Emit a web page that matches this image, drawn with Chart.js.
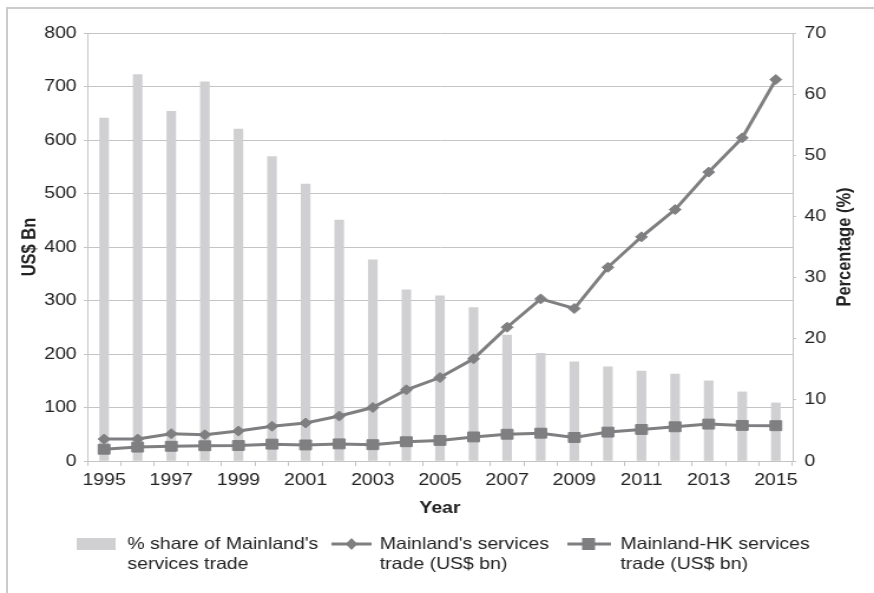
<!DOCTYPE html>
<html lang="en">
<head>
  <meta charset="UTF-8" />
  <title>Mainland services trade</title>
  <script src="https://cdn.jsdelivr.net/npm/chart.js"></script>
  <style>
    body {
      margin: 0;
      padding: 0;
      background-color: #fff;
      overflow: hidden;
    }

    .frame {
      position: absolute;
      left: 6px;
      top: 7px;
      width: 900px;
      height: 620px;
      border-left: 2px solid #cccccc;
      border-top: 2px solid #cccccc;
    }

    /* the chart is drawn narrow and stretched sideways to the page width */
    .stretch {
      position: absolute;
      left: 0;
      top: 0;
      width: 741px;
      height: 593px;
      transform: scaleX(1.1795);
      transform-origin: 0 0;
    }
  </style>
</head>
<body>

  <div class="frame"></div>
  <div class="stretch">
    <canvas id="tradeChart" width="741" height="593"></canvas>
  </div>

  <script>
    const years = ['1995', '1996', '1997', '1998', '1999', '2000', '2001', '2002', '2003', '2004',
      '2005', '2006', '2007', '2008', '2009', '2010', '2011', '2012', '2013', '2014', '2015'];

    // % share of Mainland's services trade (right axis)
    const shareOfMainland = [56.1, 63.2, 57.2, 62.0, 54.3, 49.8, 45.3, 39.4, 32.9, 28.0,
      27.0, 25.1, 20.6, 17.6, 16.2, 15.4, 14.7, 14.2, 13.1, 11.3, 9.5];

    // Mainland's services trade, US$ bn (left axis)
    const mainlandTrade = [41, 41, 51, 49, 56, 65, 71, 84, 100, 133,
      156, 191, 250, 303, 285, 362, 419, 470, 540, 604, 713];

    // Mainland-HK services trade, US$ bn (left axis)
    const mainlandHKTrade = [22, 26, 27.5, 28.5, 29, 31.5, 30, 32, 30.5, 36,
      38.5, 45, 50, 52, 44, 54, 59, 64, 69, 66.5, 66];

    const legendLabels = [
      ["% share of Mainland's", 'services trade'],
      ["Mainland's services", 'trade (US$ bn)'],
      ['Mainland-HK services', 'trade (US$ bn)']
    ];

    const barColor = '#d0d0d2';
    const lineColor = '#7f7f81';
    const gridColor = '#c4c4c4';
    const textColor = '#222';
    const fontFamily = '"Liberation Sans", Arial, sans-serif';
    const fontSize = 16.5;

    // right axis title reads bottom-to-top, like the left one
    const rightTitle = {
      id: 'rightTitle',
      afterDraw(chart) {
        const ctx = chart.ctx;
        const area = chart.chartArea;
        ctx.save();
        ctx.translate(716, (area.top + area.bottom) / 2);
        ctx.rotate(-Math.PI / 2);
        ctx.fillStyle = textColor;
        ctx.font = 'bold ' + fontSize + 'px ' + fontFamily;
        ctx.textAlign = 'center';
        ctx.textBaseline = 'middle';
        ctx.fillText('Percentage (%)', 0, 0);
        ctx.restore();
      }
    };

    // legend under the axis title, two text lines per entry
    const bottomLegend = {
      id: 'bottomLegend',
      afterDraw(chart) {
        const ctx = chart.ctx;
        const rowY = 544;
        const rowGap = 20;
        ctx.save();

        ctx.fillStyle = barColor;
        ctx.fillRect(65, rowY - 6, 33, 12);

        ctx.strokeStyle = lineColor;
        ctx.lineWidth = 3;
        ctx.beginPath();
        ctx.moveTo(281, rowY);
        ctx.lineTo(315, rowY);
        ctx.moveTo(481, rowY);
        ctx.lineTo(518, rowY);
        ctx.stroke();

        ctx.fillStyle = lineColor;
        ctx.beginPath();
        ctx.moveTo(298 - 5, rowY);
        ctx.lineTo(298, rowY - 6);
        ctx.lineTo(298 + 5, rowY);
        ctx.lineTo(298, rowY + 6);
        ctx.closePath();
        ctx.fill();
        ctx.fillRect(499 - 5.5, rowY - 6, 11, 12);

        ctx.fillStyle = textColor;
        ctx.font = fontSize + 'px ' + fontFamily;
        ctx.textBaseline = 'middle';
        ctx.textAlign = 'left';
        const textX = [108, 322, 526];
        legendLabels.forEach((lines, i) => {
          lines.forEach((line, j) => {
            ctx.fillText(line, textX[i], rowY + j * rowGap);
          });
        });
        ctx.restore();
      }
    };

    const ctx = document.getElementById('tradeChart').getContext('2d');

    new Chart(ctx, {
      type: 'bar',
      data: {
        labels: years,
        datasets: [
          {
            type: 'line',
            label: "Mainland's services trade (US$ bn)",
            data: mainlandTrade,
            yAxisID: 'y',
            borderColor: lineColor,
            backgroundColor: lineColor,
            borderWidth: 3,
            pointStyle: 'rectRot',
            pointRadius: 5,
            pointBorderWidth: 1,
            tension: 0,
            order: 1
          },
          {
            type: 'line',
            label: 'Mainland-HK services trade (US$ bn)',
            data: mainlandHKTrade,
            yAxisID: 'y',
            borderColor: lineColor,
            backgroundColor: lineColor,
            borderWidth: 3,
            pointStyle: 'rect',
            pointRadius: 7,
            pointBorderWidth: 1,
            tension: 0,
            order: 2
          },
          {
            type: 'bar',
            label: "% share of Mainland's services trade",
            data: shareOfMainland,
            yAxisID: 'y1',
            backgroundColor: barColor,
            barThickness: 7.5,
            order: 3
          }
        ]
      },
      options: {
        responsive: false,
        animation: false,
        layout: {
          padding: { top: 33, left: 0, right: 0, bottom: 72 }
        },
        plugins: {
          legend: { display: false },
          tooltip: { enabled: false }
        },
        scales: {
          x: {
            offset: true,
            grid: {
              offset: true,
              drawOnChartArea: false,
              color: gridColor,
              tickLength: 5
            },
            border: { color: gridColor, width: 1 },
            ticks: {
              autoSkip: false,
              maxRotation: 0,
              padding: 5,
              color: textColor,
              font: { family: fontFamily, size: fontSize },
              callback: function(value, index) {
                return index % 2 === 0 ? this.getLabelForValue(value) : '';
              }
            },
            title: {
              display: true,
              text: 'Year',
              color: textColor,
              font: { family: fontFamily, size: fontSize, weight: 'bold' },
              padding: { top: 0, bottom: 3 }
            },
            afterFit(scale) {
              scale.height = 60;
            }
          },
          y: {
            position: 'left',
            min: 0,
            max: 800,
            grid: {
              color: gridColor,
              tickLength: 3
            },
            border: { color: gridColor, width: 1 },
            ticks: {
              stepSize: 100,
              padding: 6,
              color: textColor,
              font: { family: fontFamily, size: fontSize }
            },
            title: {
              display: true,
              text: 'US$ Bn',
              color: textColor,
              font: { family: fontFamily, size: fontSize, weight: 'bold' },
              padding: { top: 16, bottom: 0 }
            },
            afterFit(scale) {
              scale.width = 74;
            }
          },
          y1: {
            position: 'right',
            min: 0,
            max: 70,
            grid: {
              drawOnChartArea: false,
              color: gridColor,
              tickLength: 3
            },
            border: { color: gridColor, width: 1 },
            ticks: {
              stepSize: 10,
              padding: 7,
              color: textColor,
              font: { family: fontFamily, size: fontSize }
            },
            afterFit(scale) {
              scale.width = 69;
            }
          }
        }
      },
      plugins: [bottomLegend, rightTitle]
    });
  </script>

</body>
</html>
